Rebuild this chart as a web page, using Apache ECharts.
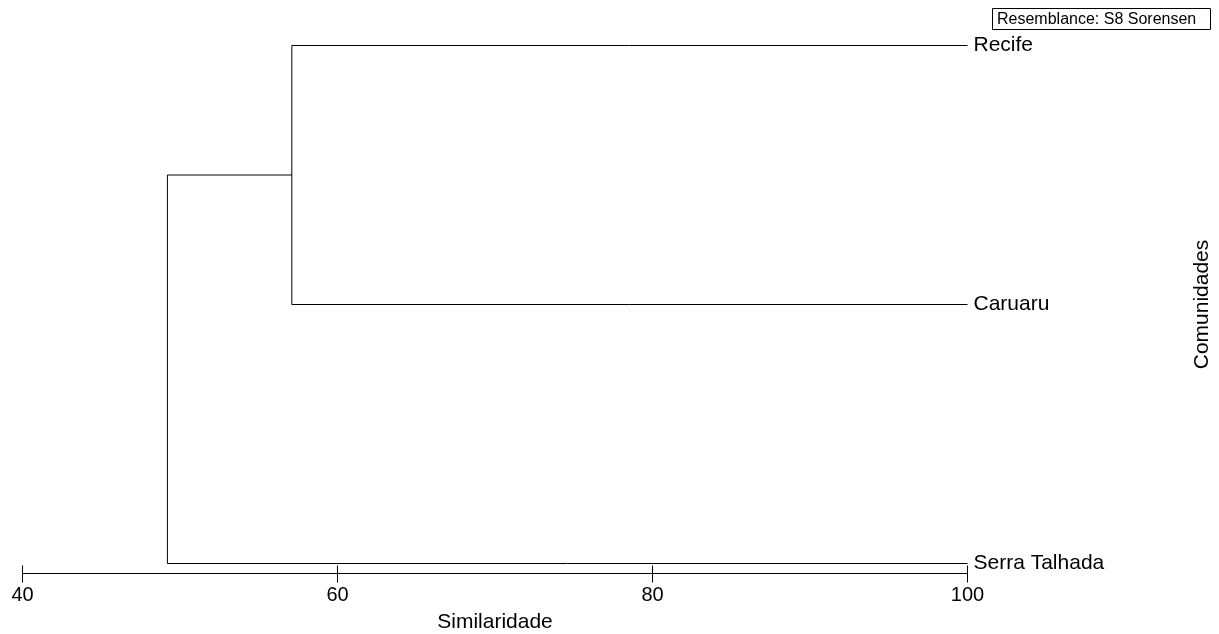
<!DOCTYPE html>
<html>
<head>
<meta charset="utf-8">
<script src="https://cdn.jsdelivr.net/npm/echarts@6/dist/echarts.min.js"></script>
<style>
html,body{margin:0;padding:0;background:#fff;}
#chart{width:1219px;height:634px;}
</style>
</head>
<body>
<div id="chart"></div>
<script>
// Leaves (top to bottom) and their similarity level
const leaves = ['Recife', 'Caruaru', 'Serra Talhada'];
const leafSimilarity = 100;
// Merges: children are leaf indices (numbers) or earlier merge ids ('m0', ...)
const mergeChildA = [0, 'm0'];
const mergeChildB = [1, 2];
const mergeSimilarity = [57.1, 49.2];
const xTicks = [40, 60, 80, 100];
const resemblanceText = 'Resemblance: S8 Sorensen';

// Build dendrogram segments from the data
const nodes = {};
leaves.forEach((n, i) => { nodes[i] = { x: leafSimilarity, y: i }; });
const segments = [];
mergeSimilarity.forEach((s, k) => {
  const a = nodes[mergeChildA[k]], b = nodes[mergeChildB[k]];
  segments.push([[a.x, a.y], [s, a.y]]);
  segments.push([[b.x, b.y], [s, b.y]]);
  segments.push([[s, a.y], [s, b.y]]);
  nodes['m' + k] = { x: s, y: (a.y + b.y) / 2 };
});

const chart = echarts.init(document.getElementById('chart'), null, { renderer: 'canvas' });
const font = 'Arial, "Liberation Sans", sans-serif';
const lineSeries = segments.map(seg => ({
  type: 'line',
  data: seg,
  symbol: 'none',
  silent: true,
  lineStyle: { color: '#000', width: 1 },
  animation: false
}));

const gridLeft = 22.5, gridRight = 251.5, gridTop = 45.5, gridBottom = 70.5;
const gridBase = { left: gridLeft, right: gridRight, top: gridTop, bottom: gridBottom,
  containLabel: false, outerBoundsMode: 'none' };
const xAxisBase = {
  type: 'value', min: xTicks[0], max: xTicks[xTicks.length - 1], interval: 20,
  position: 'bottom', offset: 10, splitLine: { show: false }
};

chart.setOption({
  animation: false,
  backgroundColor: '#fff',
  grid: [Object.assign({}, gridBase), Object.assign({}, gridBase)],
  xAxis: [Object.assign({}, xAxisBase, {
    gridIndex: 0,
    axisLine: { show: true, onZero: false, lineStyle: { color: '#000', width: 1 } },
    axisTick: { show: true, length: 9, lineStyle: { color: '#000' } },
    axisLabel: { color: '#000', fontSize: 20, fontFamily: font, margin: 12 },
    name: 'Similaridade', nameLocation: 'middle', nameGap: 38,
    nameTextStyle: { color: '#000', fontSize: 21, fontFamily: font }
  }), Object.assign({}, xAxisBase, {
    gridIndex: 1,
    axisLine: { show: false, onZero: false },
    axisTick: { show: true, inside: true, length: 8, lineStyle: { color: '#000' } },
    axisLabel: { show: false }
  })],
  yAxis: [{
    gridIndex: 0,
    type: 'value', min: 0, max: leaves.length - 1, interval: 1, inverse: true,
    position: 'right',
    axisLine: { show: false }, axisTick: { show: false }, splitLine: { show: false },
    axisLabel: { color: '#000', fontSize: 21, fontFamily: font, margin: 6,
      formatter: v => leaves[v] || '' },
    name: 'Comunidades', nameLocation: 'middle', nameRotate: 90, nameGap: 224,
    nameTextStyle: { color: '#000', fontSize: 21, fontFamily: font }
  }, {
    gridIndex: 1, type: 'value', min: 0, max: 2, show: false
  }],
  graphic: [{
    type: 'group', left: 992, top: 8,
    children: [{
      type: 'rect', shape: { x: 0.5, y: 0.5, width: 218, height: 21 },
      style: { fill: '#fff', stroke: '#000', lineWidth: 1 }
    }, {
      type: 'text', x: 5, y: 11.5,
      style: { text: resemblanceText, fill: '#000', fontSize: 16, fontFamily: font, verticalAlign: 'middle' }
    }]
  }],
  series: lineSeries
});
</script>
</body>
</html>
